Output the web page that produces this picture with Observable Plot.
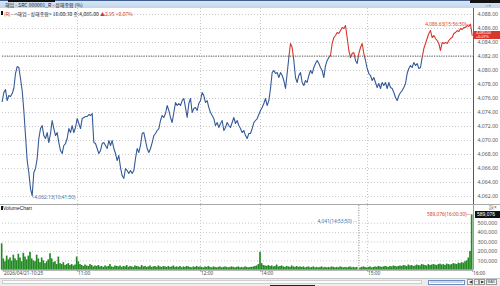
<!DOCTYPE html>
<html><head><meta charset="utf-8">
<script src="https://cdn.jsdelivr.net/npm/d3@7"></script>
<script src="https://cdn.jsdelivr.net/npm/@observablehq/plot@0.6"></script>
<style>
body{margin:0;background:#fff;}
#wrap{position:relative;width:500px;height:286px;overflow:hidden;font-family:"Liberation Sans",Arial,sans-serif;}
.a{position:absolute;white-space:nowrap;}
.kr{font-family:"Noto Sans CJK KR","Liberation Sans",sans-serif;}
</style></head><body><div id="wrap"></div>
<script>
// ---- data (one record per chart step) ----
const prices = [
4075.57,4076.86,4077.29,4075.71,4076.43,4076.29,4076.71,4077.43,4079.57,4080.57,
4080.43,4078.86,4077.14,4074.29,4070.71,4067.14,4065.43,4063.14,4062.13,4065.43,
4066.00,4067.43,4070.29,4071.71,4072.14,4070.71,4070.29,4071.14,4069.71,4071.00,
4072.86,4071.71,4070.71,4071.14,4069.71,4068.57,4068.14,4069.29,4069.57,4070.29,
4071.71,4071.14,4072.14,4071.14,4071.86,4073.14,4072.43,4071.71,4073.14,4073.29,
4073.43,4073.43,4073.71,4073.57,4073.86,4069.71,4069.57,4068.86,4068.14,4068.57,
4069.57,4069.71,4069.29,4068.86,4070.00,4069.29,4070.00,4068.86,4068.14,4067.14,
4067.86,4066.14,4065.00,4064.57,4066.00,4065.71,4065.29,4065.71,4065.29,4065.71,
4067.43,4068.86,4068.29,4069.29,4071.00,4071.14,4070.00,4068.86,4068.29,4068.86,
4069.71,4070.71,4071.00,4071.43,4071.71,4072.86,4073.57,4073.29,4073.86,4075.00,
4074.29,4073.29,4072.57,4074.00,4075.43,4075.00,4075.29,4075.00,4075.71,4076.00,
4074.71,4073.29,4075.29,4076.00,4074.00,4074.57,4074.71,4074.29,4075.29,4075.71,
4076.86,4076.43,4075.43,4075.71,4074.71,4074.00,4073.57,4073.14,4072.14,4072.57,
4071.86,4072.43,4072.86,4071.43,4071.86,4072.57,4072.14,4071.86,4072.57,4073.29,
4072.43,4072.86,4072.14,4071.71,4071.14,4071.43,4070.71,4070.29,4071.00,4071.00,
4071.71,4072.57,4072.86,4073.14,4073.71,4074.29,4074.71,4075.29,4076.00,4075.00,
4075.71,4077.43,4079.71,4080.00,4079.57,4079.71,4079.00,4079.71,4079.29,4078.57,
4077.43,4079.57,4081.86,4083.86,4083.29,4081.43,4079.00,4078.29,4079.29,4079.71,
4078.29,4077.86,4078.57,4078.29,4079.29,4080.00,4079.57,4080.43,4081.00,4081.43,
4081.00,4080.43,4080.00,4079.00,4080.71,4081.43,4081.86,4082.14,4083.86,4084.71,
4085.00,4085.43,4085.29,4085.71,4086.14,4086.00,4086.43,4084.71,4082.86,4081.86,
4082.43,4082.57,4081.43,4081.00,4082.43,4083.29,4083.86,4082.43,4081.43,4080.29,
4079.57,4079.29,4078.57,4079.00,4078.29,4077.57,4078.14,4077.43,4078.29,4077.86,
4078.29,4077.43,4078.29,4077.57,4077.43,4076.86,4076.14,4075.71,4076.43,4076.86,
4077.14,4077.57,4078.14,4079.57,4080.29,4080.71,4080.43,4081.14,4080.71,4081.00,
4080.29,4080.43,4081.86,4083.14,4083.86,4084.57,4085.29,4085.71,4084.71,4085.00,
4084.57,4084.29,4083.86,4082.86,4084.00,4083.86,4084.00,4083.86,4084.29,4084.57,
4084.71,4085.29,4085.43,4085.71,4085.57,4086.00,4085.86,4086.14,4086.14,4086.43,
4086.29,4086.63,4085.00];
// volume in thousands of shares
const volumes = [
280,120,90,150,110,130,95,160,120,100,
170,130,90,180,140,110,150,190,120,100,
90,160,120,80,130,100,70,90,110,175,
120,80,90,60,140,70,60,80,50,60,
70,50,60,45,55,140,90,60,50,40,
55,45,40,60,50,35,45,40,50,35,
40,30,45,35,40,60,35,30,45,40,
35,45,30,40,35,50,30,40,35,30,
45,40,35,30,50,35,40,30,35,45,
30,35,40,30,45,35,30,40,35,30,
40,30,35,45,30,35,30,40,25,35,
30,40,35,30,25,35,30,40,30,35,
30,25,35,30,40,30,25,35,30,25,
30,35,25,30,35,30,25,30,35,30,
25,30,35,25,30,25,35,30,25,30,
30,35,40,45,60,190,70,50,45,40,
50,40,45,35,40,55,35,40,45,35,
30,40,35,30,45,35,30,40,30,35,
30,35,25,30,35,25,30,35,25,30,
25,30,35,25,30,25,30,25,35,30,
25,30,25,35,30,25,30,25,30,35,
25,30,25,30,4.041,25,30,35,30,25,
30,35,25,30,35,30,40,35,30,35,
40,35,30,40,35,45,40,35,40,45,
40,50,45,40,55,45,50,40,45,55,
50,45,60,55,50,45,60,50,55,60,
55,50,60,65,55,60,50,65,60,55,
60,70,65,60,75,70,80,75,90,100,
130,200,589.076];
const tickIndex  = [1.8, 46.2, 120, 156, 220.2, 283.2];
const tickLabels = ["2026/04/21-10:25","11:00","12:00","14:00","15:00","16:00"];
const priceTicks = [4062,4064,4066,4068,4070,4072,4074,4076,4078,4080,4082,4084,4086,4088];
const volumeTicks = [100,200,300,400,500];
const prevClose = 4082.05;
const lastPrice = 4085.00, change = 2.95, changePct = 0.07, lastTime = "16:00:30";
const highMark = {i: 282, p: 4086.63, t: "15:56:50"};
const lowMark  = {i: 19,  p: 4062.13, t: "10:41:50"};
const volMax = {i: 283, v: 589.076, t: "16:00:30"};
const volMin = {i: 215, v: 4.041, t: "14:53:50"};

const RED = "#d8382c", BLUE = "#355a98", GREEN = "#238a23";
const FONT = "Liberation Sans, Arial, sans-serif";
const fmtP = d3.format(",.2f");
const fmtV = v => d3.format(",")(Math.round(v * 1000));
const xDomain = [1.2, 283.8];

const pts = prices.map((p, k) => ({i: k + 1, p}));
const vols = volumes.map((v, k) => ({i: k + 1, v}));
const ticks = tickIndex.map((x, k) => ({x, label: tickLabels[k]}));

// split line into runs above / below previous close
const segs = []; let seg = 0;
pts.forEach((a, j) => {
  const up = a.p >= prevClose;
  if (j > 0) {
    const b = pts[j - 1], upb = b.p >= prevClose;
    if (up !== upb) {
      const t = (prevClose - b.p) / (a.p - b.p);
      const c = {i: b.i + t * (a.i - b.i), p: prevClose};
      segs.push({...c, seg, up: upb}); seg++;
      segs.push({...c, seg, up});
    }
  }
  segs.push({...a, seg, up});
});

const wrap = document.getElementById("wrap");
function div(css, html, cls) {
  const d = document.createElement("div");
  d.className = "a" + (cls ? " " + cls : "");
  d.style.cssText = css;
  if (html != null) d.innerHTML = html;
  wrap.appendChild(d);
  return d;
}

// ---- main price panel ----
const yDom = [4060.86, 4088.86];
const main = Plot.plot({
  width: 500, height: 196,
  marginLeft: 2, marginRight: 27, marginTop: 0, marginBottom: 0,
  x: {domain: xDomain, axis: null},
  y: {domain: yDom, axis: null},
  style: {background: "transparent", overflow: "visible", fontFamily: FONT},
  marks: [
    Plot.ruleY(priceTicks, {stroke: "#c9c9c9", strokeDasharray: "1,2", strokeWidth: 1}),
    Plot.ruleX(tickIndex.slice(1, 5), {stroke: "#c9c9c9", strokeDasharray: "1,2", strokeWidth: 1}),
    Plot.ruleY([prevClose], {stroke: "#7a7a7a", strokeDasharray: "1.2,1.2", strokeWidth: 1.2}),
    Plot.line(segs.filter(d => !d.up), {x: "i", y: "p", z: "seg", stroke: BLUE, strokeWidth: 1.1}),
    Plot.line(segs.filter(d => d.up), {x: "i", y: "p", z: "seg", stroke: RED, strokeWidth: 1.1}),
    Plot.ruleX([xDomain[1]], {y1: prevClose, y2: yDom[1], stroke: RED, strokeWidth: 1}),
    Plot.ruleX([xDomain[1]], {y1: yDom[0], y2: prevClose, stroke: BLUE, strokeWidth: 1}),
    Plot.text(priceTicks, {y: d => d, frameAnchor: "right", text: d => fmtP(d), textAnchor: "start", dx: 4, fontSize: 5.2, fill: "#555"}),
    Plot.text([lowMark], {x: "i", y: "p", text: d => "└" + fmtP(d.p) + "(" + d.t + ")", textAnchor: "start", dx: -1, dy: 2, fontSize: 4.8, fill: "#4a6fa5"}),
    Plot.text([highMark], {x: "i", y: "p", text: d => fmtP(d.p) + "(" + d.t + ")─", textAnchor: "end", dx: -1, fontSize: 4.8, fill: RED})
  ]
});
main.style.cssText = "position:absolute;left:0;top:8px;";
wrap.appendChild(main);

// ---- volume panel ----
const volTop = 204;
const vol = Plot.plot({
  width: 500, height: 74,
  marginLeft: 2, marginRight: 27, marginTop: 1, marginBottom: 8.3,
  x: {domain: xDomain, axis: null},
  y: {domain: [0, 688.3], axis: null},
  style: {background: "transparent", overflow: "visible", fontFamily: FONT},
  marks: [
    Plot.ruleY(volumeTicks, {stroke: "#c9c9c9", strokeDasharray: "1,2", strokeWidth: 1}),
    Plot.ruleX(tickIndex.slice(1, 5), {stroke: "#c9c9c9", strokeDasharray: "1,2", strokeWidth: 1}),
    Plot.rectY(vols, {x1: d => d.i - 0.5, x2: d => d.i + 0.5, y: "v", fill: GREEN}),
    Plot.ruleX([volMin.i], {stroke: "#8a8a8a", strokeDasharray: "1,1.5", strokeWidth: 1}),
    Plot.text([volMin], {x: "i", frameAnchor: "top", dy: 14, text: d => fmtV(d.v) + "(" + d.t + ") ···", textAnchor: "end", dx: -2, fontSize: 4.8, fill: "#4a6fa5"}),
    Plot.text([volMax], {x: "i", y: "v", text: d => fmtV(d.v) + "(" + d.t + ")─", textAnchor: "end", dx: -2, fontSize: 4.8, fill: RED}),
    Plot.ruleY([0], {stroke: "#9a9a9a", strokeWidth: 1}),
    Plot.ruleX([xDomain[1]], {stroke: "#9a9a9a", strokeWidth: 1}),
    Plot.text(volumeTicks, {y: d => d, frameAnchor: "right", text: d => fmtV(d), textAnchor: "start", dx: 4, fontSize: 5.4, fill: "#555"}),
    Plot.ruleX(ticks, {x: "x", y1: 0, y2: -20, stroke: "#9a9a9a"}),
    Plot.text(ticks, {x: "x", text: "label", frameAnchor: "bottom", textAnchor: "start", dy: 5, dx: 0.5, fontSize: 4.8, fill: "#444"})
  ]
});
vol.style.cssText = "position:absolute;left:0;top:" + volTop + "px;";
wrap.appendChild(vol);

// ---- header ----
div("left:0;top:0;width:500px;height:8px;background:linear-gradient(#d7e5f3,#c3d6ea);border-top:1px solid #3e5f8f;box-sizing:border-box;");
div("left:8px;top:0;width:47px;height:2px;background:#111;");
div("left:470px;top:0;width:30px;height:2.5px;background:#111;");
div("left:5px;top:0.5px;font-size:5px;line-height:7px;color:#222;", "해업 - SRC 000001_R - 상해종합 (%)", "kr");
div("left:486px;top:3px;font-size:4px;line-height:5px;color:#333;", "▫ ×");
div("left:1px;top:11px;width:1.5px;height:4px;background:#111;");
div("left:4px;top:9.5px;font-size:5px;line-height:7px;color:#222;",
  "<span style='color:" + RED + "'>(R)</span> - &lt;해업 - 상해종합&gt; " + lastTime + " 종:" + fmtP(lastPrice) +
  " <span style='color:" + RED + "'>▲" + change.toFixed(2) + " +" + changePct.toFixed(2) + "%</span>", "kr");

// current price badge
const yPx = 8 + main.scale("y").apply(lastPrice);
div("left:474px;top:" + (yPx - 4) + "px;width:26px;height:8px;background:" + RED + ";");
div("left:476px;top:" + (yPx - 4) + "px;font-size:3.8px;line-height:4px;height:4px;color:#fff;", fmtP(lastPrice));
div("left:476px;top:" + yPx + "px;font-size:3.8px;line-height:4px;height:4px;color:#fff;", "+" + changePct.toFixed(2) + "%");

// panel separator & volume title
div("left:0;top:203.5px;width:500px;height:1px;background:#a8a8a8;");
div("left:1px;top:205.5px;width:1.5px;height:4px;background:#111;");
div("left:3px;top:204.5px;font-size:5px;line-height:6px;color:#222;", "VolumeChart");
div("left:489px;top:205px;font-size:4.5px;line-height:6px;color:#555;", "設×");

// max volume badge
const vPx = volTop + vol.scale("y").apply(volMax.v);
div("left:475px;top:" + (vPx - 3.5) + "px;width:25px;height:7px;background:#111;color:#fff;font-size:5px;line-height:7px;padding-left:2px;box-sizing:border-box;", fmtV(volMax.v));

// bottom scroll bar
div("left:0;top:278px;width:500px;height:8px;background:#ececec;border-top:1px solid #c4c4c4;box-sizing:border-box;");
div("left:2px;top:279.5px;width:420px;height:4px;background:#fafafa;border:1px solid #d0d0d0;box-sizing:border-box;");
div("left:428px;top:279.5px;width:37px;height:5px;background:#fff;border:1px solid #6d8fc0;box-sizing:border-box;");
div("left:430px;top:280.5px;width:33px;height:2px;background:#c9d8ec;");
const btn = "border:1px solid #999;padding:0 0.5px;background:#f6f6f6;";
div("left:467px;top:279px;width:32px;height:6px;font-size:3.5px;line-height:5px;color:#333;display:flex;gap:0.5px;",
  "<span style='" + btn + "'>◀</span><span style='" + btn + "'>─</span><span style='" + btn + "'>▶</span><span style='" + btn + "'>MAX</span>");
div("left:270px;top:284.5px;width:45px;height:2px;background:#222;");
</script>
</body></html>
